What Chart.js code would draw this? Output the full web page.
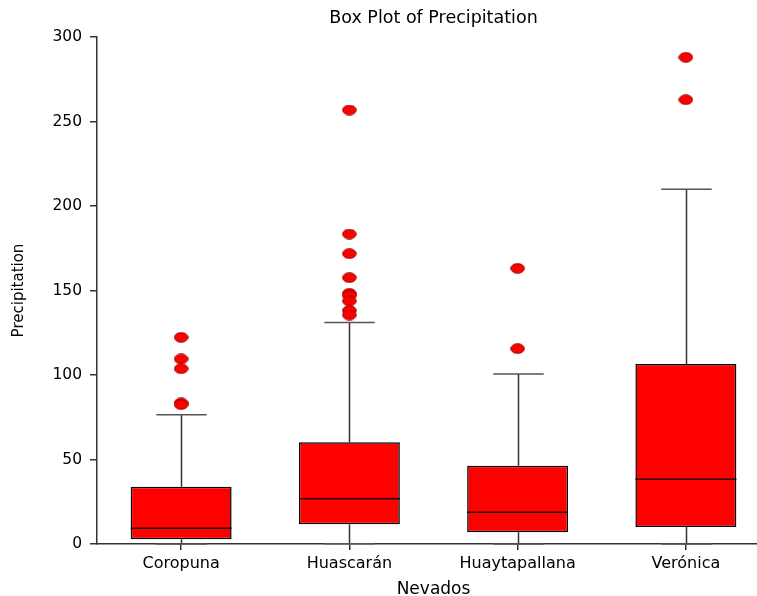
<!DOCTYPE html>
<html>
<head>
<meta charset="utf-8">
<script src="https://cdn.jsdelivr.net/npm/chart.js@4.4.1/dist/chart.umd.min.js"></script>
<style>
  html, body { margin: 0; padding: 0; background: #fff; overflow: hidden; }
  #wrap { width: 757px; height: 596px; overflow: hidden; position: relative; }
  canvas { display: block; }
</style>
</head>
<body>
<div id="wrap"><canvas id="c" width="777" height="596"></canvas></div>
<script>
// ---- data ----
const categories = ['Coropuna', 'Huascarán', 'Huaytapallana', 'Verónica'];
const q1 = [2.8, 11.7, 6.9, 10.1];
const medians = [9.3, 26.8, 18.8, 38.3];
const q3 = [33.9, 60.2, 46.3, 106.5];
const lowerWhisker = [0, 0.2, 0, 0];
const upperWhisker = [76.5, 131, 100.6, 209.9];
const outliersCoropuna = [122.3, 109.5, 103.7, 83.5, 82.5];
const outliersHuascaran = [256.8, 183.4, 171.8, 157.6, 148.3, 147.0, 143.8, 138.2, 135.5];
const outliersHuaytapallana = [163.1, 115.6];
const outliersVeronica = [288.0, 262.9];
const yTicks = [0, 50, 100, 150, 200, 250, 300];

const outlierLists = [outliersCoropuna, outliersHuascaran, outliersHuaytapallana, outliersVeronica];
const outlierPoints = [];
outlierLists.forEach((list, i) => list.forEach(v => outlierPoints.push({ x: categories[i], y: v })));

// ellipse marker
const marker = document.createElement('canvas');
marker.width = 15; marker.height = 11;
(function () {
  const m = marker.getContext('2d');
  m.beginPath();
  m.ellipse(7.5, 5.5, 6.8, 4.8, 0, 0, Math.PI * 2);
  m.fillStyle = '#FF0000';
  m.fill();
  m.lineWidth = 1;
  m.strokeStyle = '#a00000';
  m.stroke();
})();

const BOX_FRACTION = 0.6;

const whiskerPlugin = {
  id: 'whiskers',
  beforeDatasetsDraw(chart) {
    const x = chart.scales.x, y = chart.scales.y, ctx = chart.ctx;
    const step = x.getPixelForValue(1) - x.getPixelForValue(0);
    const capHalf = step * BOX_FRACTION / 4;
    ctx.save();
    categories.forEach((c, i) => {
      const cx = Math.round(x.getPixelForValue(i)) + 0.5;
      ctx.strokeStyle = '#333';
      ctx.lineWidth = 1.5;
      ctx.beginPath();
      ctx.moveTo(cx, y.getPixelForValue(q3[i]));
      ctx.lineTo(cx, y.getPixelForValue(upperWhisker[i]));
      ctx.moveTo(cx, y.getPixelForValue(q1[i]));
      ctx.lineTo(cx, y.getPixelForValue(lowerWhisker[i]));
      ctx.stroke();
      ctx.strokeStyle = '#555';
      ctx.beginPath();
      const yu = y.getPixelForValue(upperWhisker[i]);
      const yl = y.getPixelForValue(lowerWhisker[i]);
      ctx.moveTo(cx - capHalf, yu); ctx.lineTo(cx + capHalf, yu);
      ctx.moveTo(cx - capHalf, yl); ctx.lineTo(cx + capHalf, yl);
      ctx.stroke();
    });
    ctx.restore();
  },
  afterDatasetDraw(chart, args) {
    if (args.index !== 1) return;
    const x = chart.scales.x, y = chart.scales.y, ctx = chart.ctx;
    const step = x.getPixelForValue(1) - x.getPixelForValue(0);
    const half = step * BOX_FRACTION / 2;
    ctx.save();
    ctx.strokeStyle = '#1a0000';
    ctx.lineWidth = 1.5;
    categories.forEach((c, i) => {
      const cx = x.getPixelForValue(i);
      const ym = y.getPixelForValue(medians[i]);
      ctx.beginPath();
      ctx.moveTo(cx - half, ym); ctx.lineTo(cx + half, ym);
      ctx.stroke();
    });
    ctx.restore();
  }
};

const FONT = "'DejaVu Sans', 'Liberation Sans', Arial, sans-serif";

new Chart(document.getElementById('c'), {
  data: {
    labels: categories,
    datasets: [
      {
        type: 'line',
        label: 'Outliers',
        data: outlierPoints,
        showLine: false,
        pointStyle: marker,
        pointRadius: 6,
        order: 0
      },
      {
        type: 'bar',
        label: 'Box',
        data: categories.map((c, i) => [q1[i], q3[i]]),
        backgroundColor: '#FF0000',
        borderColor: '#000000',
        borderWidth: 1.5,
        borderSkipped: false,
        barPercentage: BOX_FRACTION,
        categoryPercentage: 1.0,
        grouped: false,
        order: 1
      }
    ]
  },
  options: {
    responsive: false,
    animation: false,
    devicePixelRatio: 1,
    layout: { padding: { left: 0, right: 3, top: 0, bottom: 0 } },
    plugins: {
      legend: { display: false },
      tooltip: { enabled: false },
      title: {
        display: true,
        text: 'Box Plot of Precipitation',
        fullSize: false,
        color: '#000',
        font: { family: FONT, size: 17.5, weight: 'normal', lineHeight: 1.2 },
        padding: { top: 8, bottom: 8 }
      }
    },
    scales: {
      x: {
        type: 'category',
        offset: true,
        afterFit(s) { s.height = 52; },
        border: { display: true, color: '#333', width: 1.5 },
        grid: { display: true, drawOnChartArea: false, drawTicks: true, tickLength: 6, offset: false, color: '#333', lineWidth: 1.5 },
        ticks: { color: '#000', padding: 4, font: { family: FONT, size: 16 } },
        title: {
          display: true, text: 'Nevados', color: '#000',
          font: { family: FONT, size: 17, lineHeight: 0.8 },
          padding: 0
        }
      },
      y: {
        type: 'linear',
        min: 0, max: 300,
        afterFit(s) { s.width = 97; },
        afterBuildTicks(s) { s.ticks = yTicks.map(v => ({ value: v })); },
        border: { display: true, color: '#333', width: 1.5 },
        grid: { display: true, drawOnChartArea: false, drawTicks: true, tickLength: 7, color: '#333', lineWidth: 1.5 },
        ticks: { color: '#000', padding: 8, font: { family: FONT, size: 15.5 } },
        title: {
          display: true, text: 'Precipitation', color: '#000',
          font: { family: FONT, size: 15, lineHeight: 1.2 },
          padding: 10
        }
      }
    }
  },
  plugins: [whiskerPlugin]
});
</script>
</body>
</html>
